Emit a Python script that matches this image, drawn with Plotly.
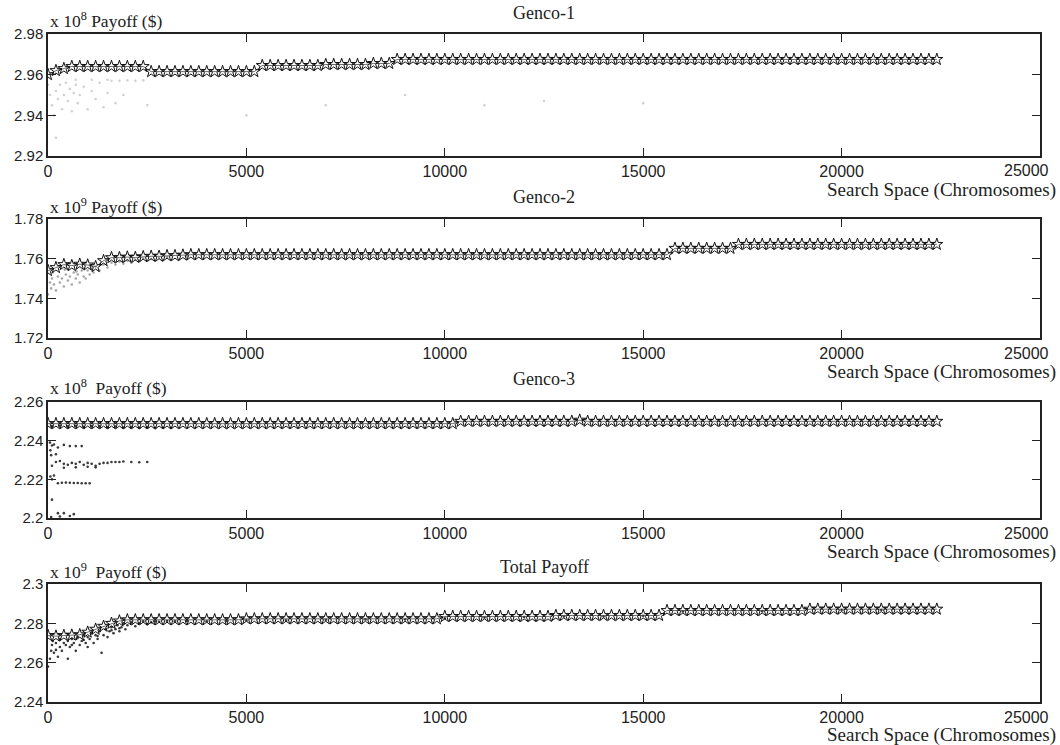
import plotly.graph_objects as go

# ---------------- data ----------------
# best-of-generation markers, one every 200 chromosomes (0 ... 22400)
star_x = list(range(0, 22401, 200))

genco1_best = [
    2.9600, 2.9620, 2.9630,
    2.9640, 2.9640, 2.9640, 2.9640, 2.9640, 2.9640, 2.9640, 2.9640, 2.9640, 2.9640,
    2.9615, 2.9615, 2.9615, 2.9615, 2.9615, 2.9615, 2.9615, 2.9615, 2.9615, 2.9615, 2.9615, 2.9615, 2.9615, 2.9615,
    2.9645, 2.9645, 2.9645, 2.9645, 2.9645, 2.9645, 2.9645, 2.9645,
    2.9650, 2.9650, 2.9650, 2.9650, 2.9650, 2.9650, 2.9655, 2.9655, 2.9655,
    2.9675, 2.9675, 2.9675, 2.9675, 2.9675, 2.9675, 2.9675, 2.9675, 2.9675, 2.9675,
    2.9675, 2.9675, 2.9675, 2.9675, 2.9675, 2.9675, 2.9675, 2.9675, 2.9675, 2.9675,
    2.9675, 2.9675, 2.9675, 2.9675, 2.9675, 2.9675, 2.9675, 2.9675, 2.9675, 2.9675,
    2.9675, 2.9675, 2.9675, 2.9675, 2.9675, 2.9675, 2.9675, 2.9675, 2.9675, 2.9675,
    2.9675, 2.9675, 2.9675, 2.9675, 2.9675, 2.9675, 2.9675, 2.9675, 2.9675, 2.9675,
    2.9675, 2.9675, 2.9675, 2.9675, 2.9675, 2.9675, 2.9675, 2.9675, 2.9675, 2.9675,
    2.9675, 2.9675, 2.9675, 2.9675, 2.9675, 2.9675, 2.9675, 2.9675, 2.9675,
]

genco2_best = [
    1.7540, 1.7555,
    1.7570, 1.7565, 1.7572, 1.7568, 1.7560,
    1.7590, 1.7605,
    1.7605, 1.7608, 1.7606, 1.7610, 1.7612,
    1.7612, 1.7615, 1.7615, 1.7618,
    1.7620, 1.7620, 1.7620, 1.7620, 1.7620, 1.7620, 1.7620, 1.7620, 1.7620, 1.7620,
    1.7620, 1.7620, 1.7620, 1.7620, 1.7620, 1.7620, 1.7620, 1.7620, 1.7620, 1.7620,
    1.7620, 1.7620, 1.7620, 1.7620, 1.7620, 1.7620, 1.7620, 1.7620, 1.7620, 1.7620,
    1.7620, 1.7620, 1.7620, 1.7620, 1.7620, 1.7620, 1.7620, 1.7620, 1.7620, 1.7620,
    1.7620, 1.7620, 1.7620, 1.7620, 1.7620, 1.7620, 1.7620, 1.7620, 1.7620, 1.7620,
    1.7620, 1.7620, 1.7620, 1.7620, 1.7620, 1.7620, 1.7620, 1.7620, 1.7620, 1.7620,
    1.7620,
    1.7652, 1.7652, 1.7652, 1.7652, 1.7652, 1.7652, 1.7652, 1.7652,
    1.7672, 1.7672, 1.7672, 1.7672, 1.7672, 1.7672, 1.7672, 1.7672, 1.7672, 1.7672,
    1.7672, 1.7672, 1.7672, 1.7672, 1.7672, 1.7672, 1.7672, 1.7672, 1.7672, 1.7672,
    1.7672, 1.7672, 1.7672, 1.7672, 1.7672, 1.7672,
]

genco3_best = [
    2.2488, 2.2488, 2.2488, 2.2488, 2.2488, 2.2488, 2.2488, 2.2488, 2.2488, 2.2488,
    2.2488, 2.2488, 2.2488, 2.2488, 2.2488, 2.2488, 2.2488, 2.2488, 2.2488, 2.2488,
    2.2488, 2.2488, 2.2488, 2.2488, 2.2488, 2.2488, 2.2488, 2.2488, 2.2488, 2.2488,
    2.2488, 2.2488, 2.2488, 2.2488, 2.2488, 2.2488, 2.2488, 2.2488, 2.2488, 2.2488,
    2.2488, 2.2488, 2.2488, 2.2488, 2.2488, 2.2488, 2.2488, 2.2488, 2.2488, 2.2488,
    2.2488, 2.2488,
    2.2500, 2.2500, 2.2500, 2.2500, 2.2500, 2.2500, 2.2500, 2.2500, 2.2500, 2.2500,
    2.2500, 2.2500, 2.2500, 2.2500, 2.2500, 2.2506, 2.2500, 2.2500, 2.2500, 2.2500,
    2.2500, 2.2500, 2.2500, 2.2500, 2.2500, 2.2500, 2.2500, 2.2500, 2.2500, 2.2500,
    2.2500, 2.2500, 2.2500, 2.2500, 2.2500, 2.2500, 2.2500, 2.2500, 2.2500, 2.2500,
    2.2500, 2.2500, 2.2500, 2.2500, 2.2500, 2.2500, 2.2500, 2.2500, 2.2500, 2.2500,
    2.2500, 2.2500, 2.2500, 2.2500, 2.2500, 2.2500, 2.2500, 2.2500, 2.2500, 2.2500,
    2.2500,
]

total_best = [
    2.2738, 2.2735, 2.2738, 2.2740, 2.2742,
    2.2755, 2.2770, 2.2785, 2.2800, 2.2812,
    2.2818, 2.2818, 2.2818, 2.2818, 2.2818, 2.2818, 2.2818, 2.2818, 2.2818, 2.2818,
    2.2818, 2.2818, 2.2818, 2.2818, 2.2818,
    2.2823, 2.2823, 2.2823, 2.2823, 2.2823, 2.2823, 2.2823, 2.2823, 2.2823, 2.2823,
    2.2823, 2.2823, 2.2823, 2.2823, 2.2823, 2.2823, 2.2823, 2.2823, 2.2823, 2.2823,
    2.2823, 2.2823, 2.2823, 2.2823, 2.2823,
    2.2835, 2.2835, 2.2835, 2.2835, 2.2835, 2.2835, 2.2835, 2.2835, 2.2835, 2.2835,
    2.2835, 2.2835, 2.2835, 2.2835,
    2.2840, 2.2840, 2.2840, 2.2840, 2.2840, 2.2840, 2.2840, 2.2840, 2.2840, 2.2840,
    2.2840, 2.2840, 2.2840, 2.2840,
    2.2865, 2.2865, 2.2865, 2.2865, 2.2865, 2.2865, 2.2865, 2.2865, 2.2865, 2.2865,
    2.2865, 2.2865, 2.2865, 2.2865, 2.2865, 2.2865, 2.2865, 2.2865,
    2.2872, 2.2872, 2.2872, 2.2872, 2.2872, 2.2872, 2.2872, 2.2872, 2.2872, 2.2872,
    2.2872, 2.2872, 2.2872, 2.2872, 2.2872, 2.2872, 2.2872,
]

# population samples (scatter dots)
genco1_pop_x = [0, 50, 100, 150, 200, 250, 300, 350, 400, 450, 500, 550, 600, 650, 700, 750, 800,
                900, 1000, 1100, 1200, 1300, 1400, 1500, 1600, 1700, 1800, 2000, 2200, 2400,
                1900, 200, 2500, 5000, 7000, 9000, 11000, 12500, 15000, 700, 1100, 1500]
genco1_pop_y = [2.9550, 2.9500, 2.9450, 2.9400, 2.9520, 2.9480, 2.9550, 2.9430, 2.9500, 2.9560,
                2.9470, 2.9530, 2.9420, 2.9510, 2.9550, 2.9460, 2.9500, 2.9540, 2.9430, 2.9520,
                2.9480, 2.9560, 2.9440, 2.9510, 2.9570, 2.9460, 2.9570, 2.9572, 2.9570, 2.9572,
                2.9500, 2.9290, 2.9450, 2.9400, 2.9450, 2.9500, 2.9450, 2.9470, 2.9460, 2.9575,
                2.9575, 2.9575]

genco2_pop_x = [0, 50, 80, 100, 150, 200, 250, 300, 350, 400, 450, 500, 550, 600, 650, 700, 750,
                800, 850, 900, 950, 1000, 1050, 1100, 1150, 1200, 1300, 1400, 1500, 1600, 1700,
                1800, 1900, 2000, 2100, 2200, 2300, 2400, 2600, 2800, 3000, 3500, 120, 420, 720]
genco2_pop_y = [1.7420, 1.7480, 1.7450, 1.7500, 1.7470, 1.7440, 1.7510, 1.7480, 1.7500, 1.7460,
                1.7520, 1.7490, 1.7510, 1.7470, 1.7530, 1.7500, 1.7520, 1.7480, 1.7540, 1.7510,
                1.7500, 1.7540, 1.7520, 1.7550, 1.7530, 1.7560, 1.7540, 1.7570, 1.7555, 1.7580,
                1.7570, 1.7585, 1.7575, 1.7590, 1.7580, 1.7595, 1.7590, 1.7600, 1.7598, 1.7605,
                1.7608, 1.7612, 1.7530, 1.7545, 1.7535]

genco3_pop_x = [100, 300, 500, 700, 900, 1100, 1300, 1500, 1700, 1900, 2100, 2300, 2500, 2700, 2900, 3100,
                50, 100, 150, 250, 400, 550, 700, 850, 60,
                100, 200, 300, 400, 500, 600, 700, 800, 900, 1000, 1100, 1200, 1300, 1400, 1500,
                1600, 1700, 1800, 1900, 2100, 2300, 2500, 1000, 1200, 700, 400,
                100, 250, 350, 450, 550, 650, 750, 850, 950, 1050, 60, 150,
                100, 250, 400, 550, 650, 80, 300, 80, 200]
genco3_pop_y = [2.2475, 2.2478, 2.2474, 2.2477, 2.2472, 2.2476, 2.2474, 2.2470, 2.2473, 2.2468,
                2.2471, 2.2466, 2.2470, 2.2465, 2.2468, 2.2466,
                2.2390, 2.2375, 2.2380, 2.2365, 2.2378, 2.2372, 2.2372, 2.2372, 2.2350,
                2.2270, 2.2290, 2.2295, 2.2280, 2.2275, 2.2285, 2.2280, 2.2290, 2.2275, 2.2285,
                2.2280, 2.2270, 2.2280, 2.2285, 2.2285, 2.2290, 2.2290, 2.2290, 2.2292, 2.2290,
                2.2288, 2.2290, 2.2265, 2.2262, 2.2262, 2.2260,
                2.2200, 2.2180, 2.2182, 2.2183, 2.2182, 2.2181, 2.2181, 2.2180, 2.2180, 2.2180,
                2.2215, 2.2220,
                2.2095, 2.2025, 2.2025, 2.2010, 2.2020, 2.2005, 2.2008, 2.2325, 2.2330]

total_pop_x = [0, 50, 80, 100, 120, 150, 200, 250, 300, 300, 350, 400, 450, 500, 500, 550, 600, 650,
               700, 750, 800, 850, 900, 950, 1000, 1000, 1050, 1100, 1150, 1200, 1250, 1300, 1350,
               1400, 1450, 1500, 1550, 1600, 1650, 1700, 1750, 1800, 1850, 1900, 1950, 2000, 2100,
               2200, 2300, 2400, 2500, 2600, 2700, 2800, 3000, 3200, 3500, 4000, 4500, 5000, 6000,
               7000, 8000, 9000, 10000, 11000, 12000, 13000, 14000, 15000, 16000, 18000, 20000, 21000,
               200, 600, 900, 1250, 1600, 1800]
total_pop_y = [2.2580, 2.2620, 2.2660, 2.2690, 2.2710, 2.2650, 2.2700, 2.2630, 2.2680, 2.2720,
               2.2660, 2.2700, 2.2690, 2.2620, 2.2710, 2.2680, 2.2720, 2.2700, 2.2660, 2.2730,
               2.2690, 2.2710, 2.2740, 2.2700, 2.2680, 2.2730, 2.2720, 2.2750, 2.2700, 2.2740,
               2.2720, 2.2760, 2.2650, 2.2740, 2.2770, 2.2730, 2.2760, 2.2780, 2.2750, 2.2770,
               2.2790, 2.2760, 2.2780, 2.2800, 2.2770, 2.2790, 2.2805, 2.2785, 2.2800, 2.2810,
               2.2795, 2.2805, 2.2810, 2.2808, 2.2812, 2.2810, 2.2812, 2.2810, 2.2812, 2.2815,
               2.2815, 2.2818, 2.2820, 2.2820, 2.2825, 2.2830, 2.2832, 2.2835, 2.2835, 2.2838,
               2.2860, 2.2862, 2.2868, 2.2868,
               2.2665, 2.2690, 2.2715, 2.2735, 2.2765, 2.2775]

panel_titles = ["Genco-1", "Genco-2", "Genco-3", "Total Payoff"]
panel_ylabels = ["x 10<sup>8</sup> Payoff ($)", "x 10<sup>9</sup> Payoff ($)",
                 "x 10<sup>8</sup>  Payoff ($)", "x 10<sup>9</sup>  Payoff ($)"]
x_label = "Search Space (Chromosomes)"
x_ticks = [0, 5000, 10000, 15000, 20000, 25000]
x_ticktext = ["0", "5000", "10000", "15000", "20000", ""]   # last label drawn separately (nudged left)
x_last_label = "25000"
y_ticks = [
    [2.92, 2.94, 2.96, 2.98],
    [1.72, 1.74, 1.76, 1.78],
    [2.20, 2.22, 2.24, 2.26],
    [2.24, 2.26, 2.28, 2.30],
]
y_ticktext = [
    ["2.92", "2.94", "2.96", "2.98"],
    ["1.72", "1.74", "1.76", "1.78"],
    ["2.2", "2.22", "2.24", "2.26"],
    ["2.24", "2.26", "2.28", "2.3"],
]

# ---------------- layout constants (pixels from the top-left of the page) ----------------
W, H = 1060, 745
PL, PR = 48, 1040
plot_tops = [34, 219, 402, 584]
plot_bottoms = [156, 338, 518, 702]
title_y = [13, 197, 379, 567]
ylabel_y = [20, 206, 387, 571]
xlabel_y = [190, 372, 552, 735]
pop_colors = ["#d2d2d2", "#a8a8a8", "#3a3a3a", "#3a3a3a"]
serif = "Liberation Serif, Times New Roman, serif"
sans = "Liberation Sans, Arial, sans-serif"

best_series = [genco1_best, genco2_best, genco3_best, total_best]
pop_series = [(genco1_pop_x, genco1_pop_y), (genco2_pop_x, genco2_pop_y),
              (genco3_pop_x, genco3_pop_y), (total_pop_x, total_pop_y)]

fig = go.Figure()
annotations = []
layout_axes = {}

for i in range(4):
    n = "" if i == 0 else str(i + 1)
    xa, ya = "x" + n, "y" + n
    px, py = pop_series[i]
    fig.add_trace(go.Scatter(
        x=px, y=py, mode="markers", xaxis=xa, yaxis=ya, showlegend=False,
        marker=dict(size=2.6, color=pop_colors[i]),
    ))
    fig.add_trace(go.Scatter(
        x=star_x, y=best_series[i], mode="lines+markers", xaxis=xa, yaxis=ya, showlegend=False,
        line=dict(color="#444444", width=0.8),
        marker=dict(symbol="star-open", size=9, color="#111111", line=dict(width=1, color="#111111")),
    ))
    dom = [1 - plot_bottoms[i] / H, 1 - plot_tops[i] / H]
    layout_axes["xaxis" + n] = dict(
        domain=[0, 1], anchor=ya, range=[0, 25000], tickvals=x_ticks,
        ticktext=x_ticktext, automargin=False, ticklabeloverflow="allow",
        showline=True, linecolor="#222222", linewidth=1.5, mirror="ticks",
        ticks="inside", ticklen=8, tickwidth=1.3, tickcolor="#222222",
        showgrid=False, zeroline=False,
        tickfont=dict(family=sans, size=16, color="#222222"),
    )
    yr = y_ticks[i]
    layout_axes["yaxis" + n] = dict(
        domain=dom, anchor=xa, range=[yr[0], yr[-1]], tickvals=yr, ticktext=y_ticktext[i],
        automargin=False, ticklabeloverflow="allow",
        showline=True, linecolor="#222222", linewidth=1.5, mirror="ticks",
        ticks="inside", ticklen=8, tickwidth=1.3, tickcolor="#222222",
        showgrid=False, zeroline=False,
        tickfont=dict(family=sans, size=15, color="#222222"),
    )
    annotations.append(dict(
        text=panel_titles[i], xref="paper", yref="paper", x=0.5, y=1 - title_y[i] / H,
        xanchor="center", yanchor="middle", showarrow=False,
        font=dict(family=serif, size=18, color="#222222"),
    ))
    annotations.append(dict(
        text=panel_ylabels[i], xref="paper", yref="paper", x=0, y=1 - ylabel_y[i] / H,
        xanchor="left", yanchor="middle", showarrow=False,
        font=dict(family=serif, size=17.5, color="#222222"),
    ))
    annotations.append(dict(
        text=x_label, xref="paper", yref="paper", x=1 + 18 / (PR - PL), y=1 - xlabel_y[i] / H,
        xanchor="right", yanchor="middle", showarrow=False,
        font=dict(family=serif, size=19, color="#222222"),
    ))
    annotations.append(dict(
        text=x_last_label, xref="paper", yref="paper", x=1 + 11 / (PR - PL),
        y=1 - (plot_bottoms[i] + 15) / H,
        xanchor="right", yanchor="middle", showarrow=False,
        font=dict(family=sans, size=16, color="#222222"),
    ))

fig.update_layout(
    width=W, height=H,
    margin=dict(l=PL, r=W - PR, t=0, b=0, pad=0, autoexpand=False),
    paper_bgcolor="white", plot_bgcolor="white",
    annotations=annotations,
    **layout_axes,
)

# remove the browser's default 8px page margin so the figure sits at the window's corner
fig.write_html("out.html", config={"displayModeBar": False},
               post_script="document.body.style.margin='0px';")
